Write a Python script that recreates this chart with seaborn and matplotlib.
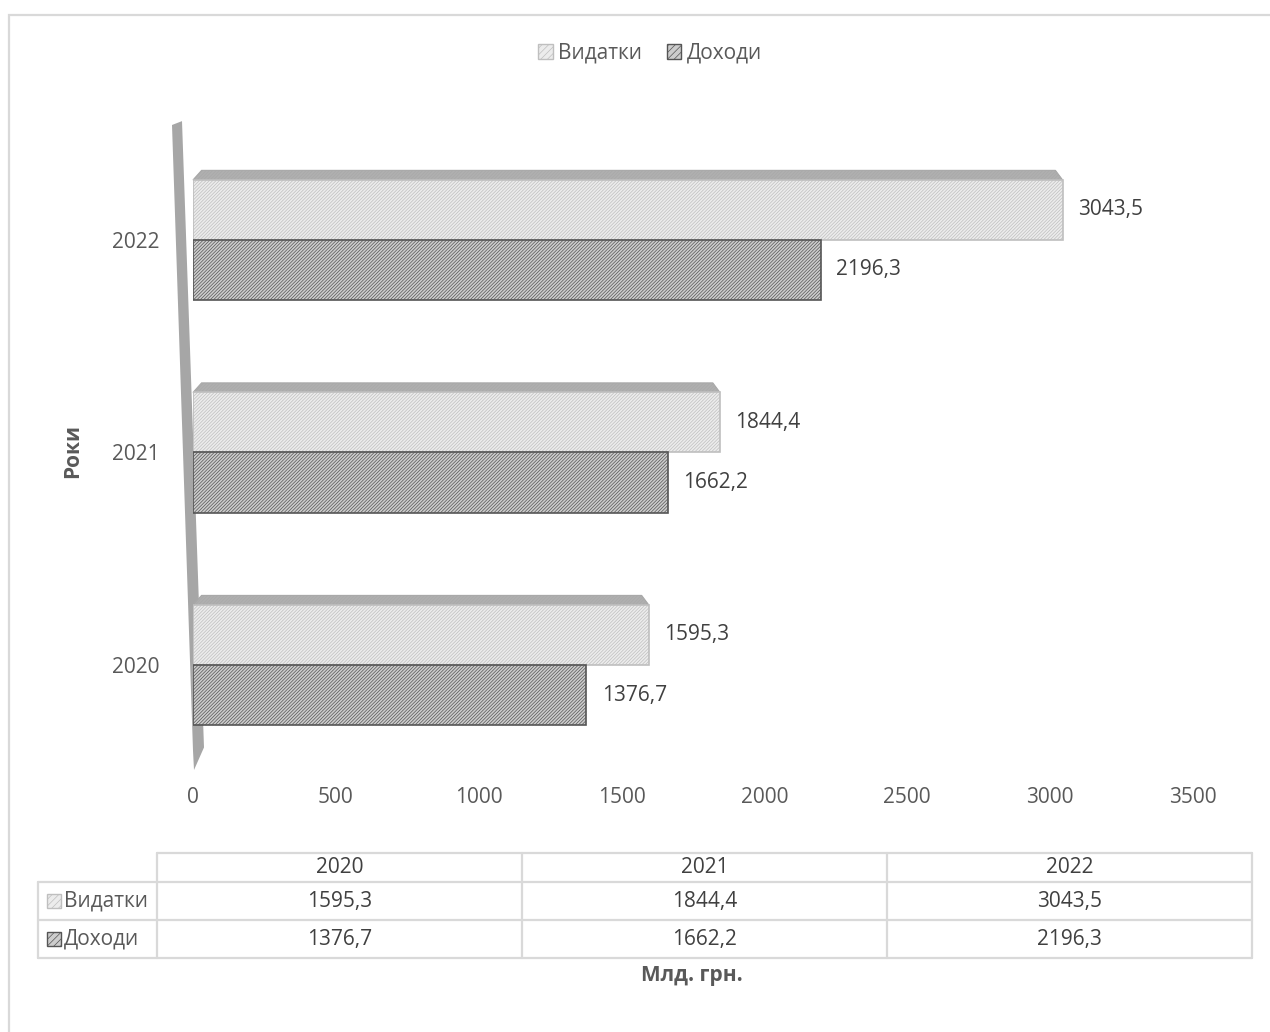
import matplotlib
matplotlib.use("Agg")
import matplotlib.pyplot as plt
import seaborn as sns
import pandas as pd
from matplotlib.patches import Patch, Polygon, Rectangle
from matplotlib.lines import Line2D

# Budget data, billion UAH
years = ["2020", "2021", "2022"]
expenses = [1595.3, 1844.4, 3043.5]   # Видатки
revenues = [1376.7, 1662.2, 2196.3]   # Доходи
series_names = ["Видатки", "Доходи"]
x_ticks = [0, 500, 1000, 1500, 2000, 2500, 3000, 3500]

sns.set_theme(style="white")
plt.rcParams["font.family"] = ["Open Sans", "DejaVu Sans"]
plt.rcParams["hatch.linewidth"] = 0.5

TEXT = "#595959"
DARK = "#404040"
GRID = "#d9d9d9"
FS = 15
styles = {
    "Видатки": dict(face="#ececec", hatch="#cbcbcb", edge="#bfbfbf"),
    "Доходи": dict(face="#cdcdcd", hatch="#8a8a8a", edge="#555555"),
}
HATCH = "//////////"

W, H = 1270, 1032
fig = plt.figure(figsize=(W / 100, H / 100), dpi=100)


def fx(px):
    return px / W


def fy(py):
    return 1 - py / H


def style_patch(p, st, lw=1.2, hatch=HATCH):
    p.set_facecolor(st["face"])
    p.set_edgecolor(st["edge"])
    p.set_linewidth(lw)
    p.set_hatch(hatch)
    if hasattr(p, "set_hatchcolor"):
        p.set_hatchcolor(st["hatch"])


ax = fig.add_axes([fx(193), fy(770), 1000 / W, 645 / H])

df = pd.DataFrame({
    "Рік": years * 2,
    "Показник": [series_names[0]] * len(years) + [series_names[1]] * len(years),
    "Млд. грн.": expenses + revenues,
})

sns.barplot(
    data=df, x="Млд. грн.", y="Рік", hue="Показник",
    order=years[::-1], hue_order=series_names, orient="h",
    width=0.565, palette=[styles[n]["face"] for n in series_names],
    saturation=1, dodge=True, legend=False, ax=ax, zorder=3,
)

ax.set_xlim(0, 3500)
ax.set_ylim(2.494, -0.541)
ax.set_xticks(x_ticks)
ax.set_xticklabels([str(t) for t in x_ticks])
for s in ax.spines.values():
    s.set_visible(False)
ax.set_xlabel("")
ax.set_ylabel("")
ax.tick_params(axis="x", length=0, pad=12, labelsize=FS, labelcolor=TEXT)
ax.tick_params(axis="y", length=0, pad=24, labelsize=FS, labelcolor=TEXT)

# back wall of the value axis
wall = Polygon([(-0.021, 1.0), (-0.011, 1.006), (0.011, 0.035), (0.001, 0.0), (0.0, 0.03)],
               closed=True, transform=ax.transAxes, facecolor="#a6a6a6",
               edgecolor="none", clip_on=False, zorder=2)
ax.add_patch(wall)

# bar styling, top faces and value labels
depth = 0.045
for name, cont in zip(series_names, ax.containers):
    st = styles[name]
    for bar in cont:
        style_patch(bar, st)
    if name == series_names[0]:
        for bar in cont:
            x0 = bar.get_x()
            x1 = x0 + bar.get_width()
            y = bar.get_y()
            top = Polygon([(x0, y), (x1, y), (x1 - 25, y - depth), (x0 + 30, y - depth)],
                          closed=True, zorder=2.9)
            style_patch(top, dict(face="#b0b0b0", hatch="#999999", edge="#a8a8a8"), lw=0.8)
            top.set_clip_on(False)
            ax.add_patch(top)
    ax.bar_label(cont, labels=[f"{b.get_width():.1f}".replace(".", ",") for b in cont],
                 padding=11, fontsize=FS, color=DARK)

# axis titles
fig.text(fx(73), fy(451), "Роки", rotation=90, ha="center", va="center",
         fontsize=FS, fontweight="bold", color=TEXT)
fig.text(fx(692), fy(975), "Млд. грн.", ha="center", va="center",
         fontsize=FS, fontweight="bold", color=TEXT)

# legend
handles = [Patch(facecolor=styles[n]["face"], edgecolor=styles[n]["edge"], hatch="/////")
           for n in series_names]
fig.legend(handles=handles, labels=series_names, loc="center",
           bbox_to_anchor=(fx(650), fy(53)), ncol=2, frameon=False, fontsize=FS,
           handlelength=0.7, handleheight=0.7, handletextpad=0.25,
           columnspacing=1.2, labelcolor=TEXT)

# data table
col_x = [157, 522, 887, 1252]
row_y = [853, 882, 920, 958]
left_x = 38


def hline(y, xa, xb):
    fig.add_artist(Line2D([fx(xa), fx(xb)], [fy(y), fy(y)], color=GRID, lw=1.6,
                          transform=fig.transFigure))


def vline(x, ya, yb):
    fig.add_artist(Line2D([fx(x), fx(x)], [fy(ya), fy(yb)], color=GRID, lw=1.6,
                          transform=fig.transFigure))


hline(row_y[0], col_x[0], col_x[-1])
for y in row_y[1:]:
    hline(y, left_x, col_x[-1])
vline(left_x, row_y[1], row_y[-1])
for x in col_x:
    vline(x, row_y[0], row_y[-1])

for i, yr in enumerate(years):
    cx = (col_x[i] + col_x[i + 1]) / 2
    fig.text(fx(cx), fy((row_y[0] + row_y[1]) / 2), yr, ha="center", va="center",
             fontsize=FS, color=DARK)

for r, (name, vals) in enumerate(zip(series_names, [expenses, revenues])):
    cy = (row_y[r + 1] + row_y[r + 2]) / 2
    sq = Rectangle((fx(47), fy(cy + 7)), 14 / W, 14 / H, transform=fig.transFigure)
    style_patch(sq, styles[name], lw=1.0, hatch="/////")
    fig.add_artist(sq)
    fig.text(fx(64), fy(cy), name, ha="left", va="center", fontsize=FS, color=TEXT)
    for i, v in enumerate(vals):
        cx = (col_x[i] + col_x[i + 1]) / 2
        fig.text(fx(cx), fy(cy), f"{v:.1f}".replace(".", ","), ha="center", va="center",
                 fontsize=FS, color=DARK)

# chart area border
fig.add_artist(Rectangle((fx(9), fy(1060)), fx(1300), 1045 / H, fill=False,
                         edgecolor=GRID, lw=1.6, transform=fig.transFigure))

fig.savefig("out.png", dpi=100, facecolor="white")
